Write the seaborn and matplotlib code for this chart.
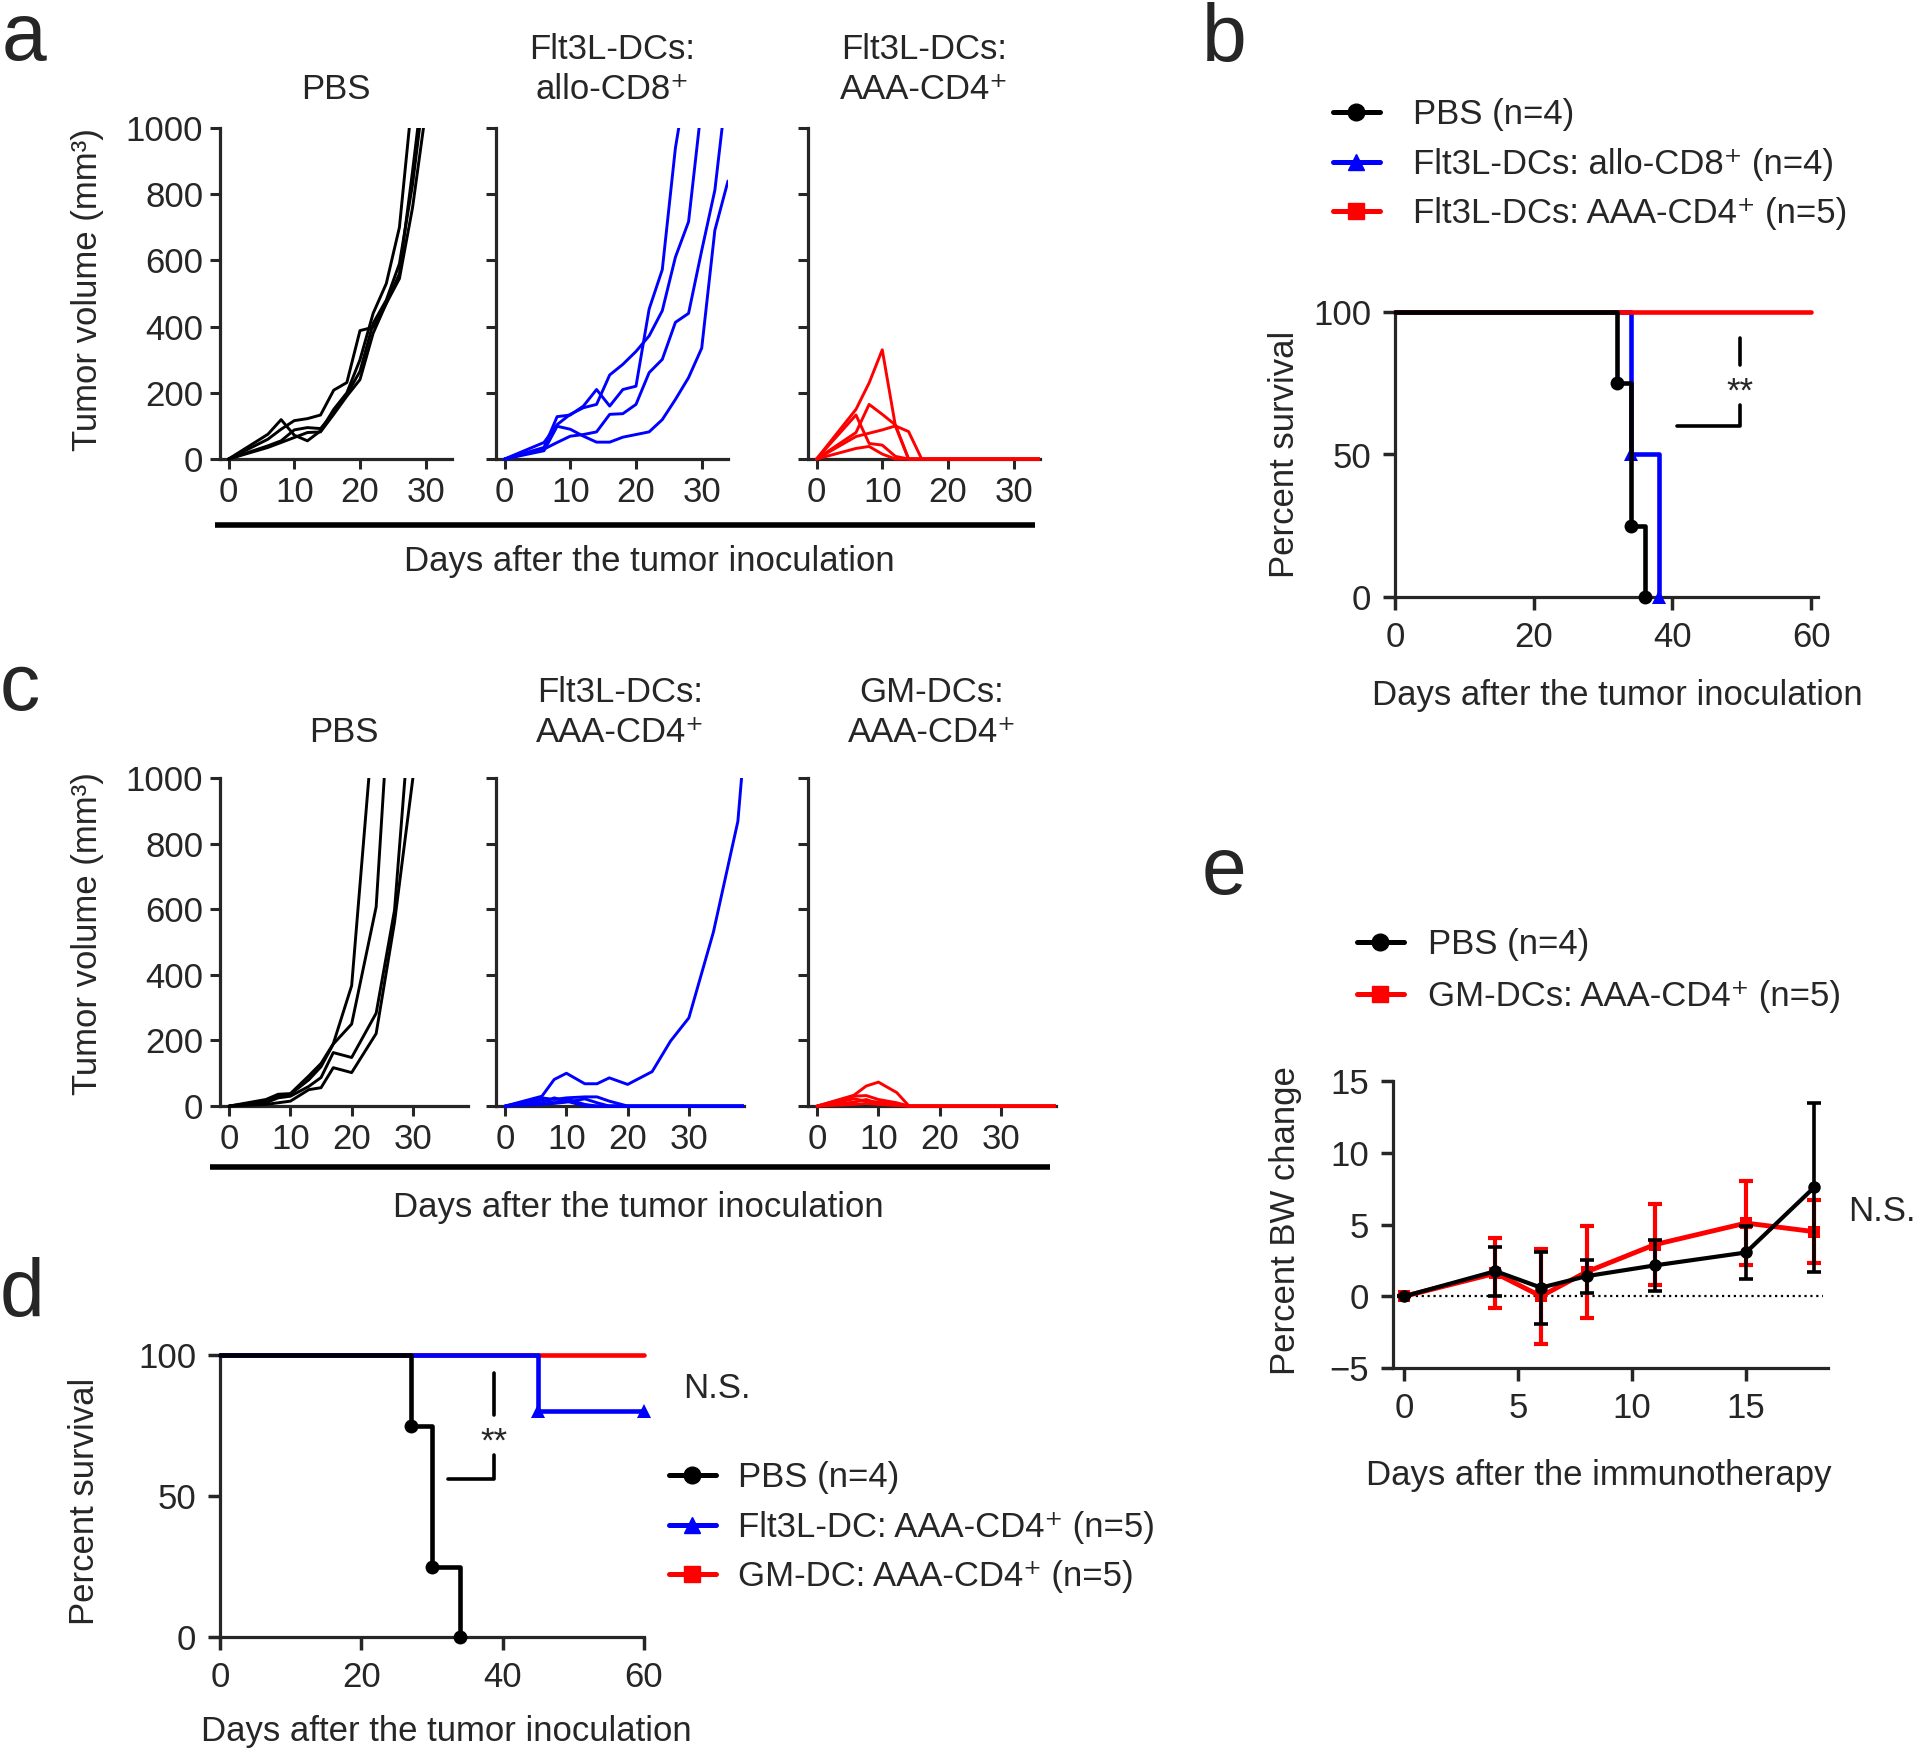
import numpy as np
import pandas as pd
import matplotlib.pyplot as plt
import seaborn as sns
from matplotlib.lines import Line2D

W, H = 1914, 1752

# --- data ---
# panel a: tumor volume per mouse, days after inoculation
a_days = [0, 6, 8, 10, 12, 14, 16, 18, 20, 22, 24, 26, 28, 30, 32, 34]
a_pbs = [
    [0, 75, 119, 72, 55, 85, 150, 200, 300, 440, 530, 700, 1100],
    [0, 60, 90, 116, 122, 133, 208, 231, 388, 398, 470, 560, 870, 1200],
    [0, 40, 55, 88, 95, 92, 140, 195, 265, 410, 480, 590, 830, 1150],
    [0, 35, 50, 65, 80, 82, 135, 190, 240, 380, 470, 545, 760, 1050],
]
a_allo = [
    [0, 35, 128, 133, 160, 210, 160, 210, 220, 453, 572, 940, 1180],
    [0, 50, 104, 135, 155, 165, 254, 286, 325, 372, 448, 610, 717, 1070],
    [0, 30, 50, 69, 74, 82, 135, 137, 165, 261, 301, 413, 440, 630, 812, 1154],
    [0, 25, 99, 90, 69, 51, 51, 66, 74, 82, 119, 180, 246, 335, 691, 840],
]
a_aaa = [
    [0, 150, 230, 330, 100, 0, 0, 0, 0, 0, 0, 0, 0, 0, 0, 0],
    [0, 80, 165, 135, 103, 0, 0, 0, 0, 0, 0, 0, 0, 0, 0, 0],
    [0, 133, 47, 42, 8, 0, 0, 0, 0, 0, 0, 0, 0, 0, 0, 0],
    [0, 68, 78, 88, 100, 83, 0, 0, 0, 0, 0, 0, 0, 0, 0, 0],
    [0, 32, 38, 15, 0, 0, 0, 0, 0, 0, 0, 0, 0, 0, 0, 0],
]

# panel c
c_days = [0, 6, 8, 10, 13, 15, 17, 20, 24, 27, 30, 34, 38, 39]
c_pbs = [
    [0, 20, 36, 38, 92, 130, 190, 367, 1270],
    [0, 15, 30, 36, 80, 120, 189, 250, 607, 1500],
    [0, 10, 25, 30, 60, 87, 163, 148, 283, 597, 1308],
    [0, 5, 10, 15, 50, 56, 117, 102, 221, 560, 1000],
]
c_flt = [
    [0, 30, 81, 100, 68, 68, 86, 66, 105, 198, 269, 530, 868, 1088],
    [0, 25, 20, 25, 28, 28, 15, 0, 0, 0, 0, 0, 0, 0],
    [0, 18, 10, 22, 5, 0, 0, 0, 0, 0, 0, 0, 0, 0],
    [0, 10, 25, 15, 0, 0, 0, 0, 0, 0, 0, 0, 0, 0],
    [0, 5, 8, 12, 22, 10, 0, 0, 0, 0, 0, 0, 0, 0],
]
c_gm = [
    [0, 33, 61, 73, 41, 0, 0, 0, 0, 0, 0, 0, 0, 0],
    [0, 30, 32, 20, 10, 0, 0, 0, 0, 0, 0, 0, 0, 0],
    [0, 22, 15, 12, 5, 0, 0, 0, 0, 0, 0, 0, 0, 0],
    [0, 12, 20, 8, 3, 0, 0, 0, 0, 0, 0, 0, 0, 0],
    [0, 5, 8, 5, 2, 0, 0, 0, 0, 0, 0, 0, 0, 0],
]

# panel b: survival
b_pbs_t, b_pbs_s = [0, 32, 34, 36], [100, 75, 25, 0]
b_allo_t, b_allo_s = [0, 34, 38], [100, 50, 0]
b_aaa_t, b_aaa_s = [0, 60], [100, 100]

# panel d: survival
d_pbs_t, d_pbs_s = [0, 27, 30, 34], [100, 75, 25, 0]
d_flt_t, d_flt_s = [0, 45, 60], [100, 80, 80]
d_gm_t, d_gm_s = [0, 60], [100, 100]

# panel e: body weight change, mean and error
e_days = [0, 4, 6, 8, 11, 15, 18]
e_pbs_mean = [0, 1.75, 0.6, 1.4, 2.15, 3.05, 7.6]
e_pbs_err = [0, 1.7, 2.5, 1.15, 1.8, 1.85, 5.9]
e_gm_mean = [0, 1.6, 0.0, 1.7, 3.6, 5.1, 4.5]
e_gm_err = [0, 2.45, 3.3, 3.2, 2.85, 2.95, 2.2]

BLUE = "#0000ff"
RED = "#ff0000"
FS = 25

sns.set_theme(style="ticks")
plt.rcParams["font.family"] = ["Liberation Sans", "DejaVu Sans"]
plt.rcParams["axes.linewidth"] = 2.3

fig = plt.figure(figsize=(W / 100, H / 100), dpi=100)


def rect(x0, y0, x1, y1):
    return [x0 / W, 1 - y1 / H, (x1 - x0) / W, (y1 - y0) / H]


def fxy(x, y):
    return x / W, 1 - y / H


def tumor_panel(box, days, mice, color, xlim, title, show_y, pad):
    ax = fig.add_axes(box)
    rows = [(d, v, i) for i, m in enumerate(mice) for d, v in zip(days, m)]
    df = pd.DataFrame(rows, columns=["day", "vol", "mouse"])
    sns.lineplot(data=df, x="day", y="vol", units="mouse", estimator=None,
                 color=color, lw=2.1, ax=ax, zorder=3, legend=False)
    ax.set_xlim(*xlim)
    ax.set_ylim(-12, 1000)
    sns.despine(ax=ax)
    ax.spines["left"].set_bounds(0, 1000)
    ax.spines["bottom"].set_position(("data", 0))
    ax.set_xticks([0, 10, 20, 30])
    ax.set_yticks(range(0, 1001, 200))
    if not show_y:
        ax.set_yticklabels([])
    ax.tick_params(length=7, width=2.2, labelsize=FS, pad=5)
    ax.set_xlabel("")
    ax.set_ylabel("")
    ax.set_title(title, fontsize=FS, pad=pad, linespacing=1.28)
    return ax


# ---- panel a ----
tumor_panel(rect(220, 128, 452, 463), a_days, a_pbs, "black", (-1.3, 34), "PBS", True, 21)
tumor_panel(rect(496, 128, 728, 463), a_days, a_allo, BLUE, (-1.3, 34),
            "Flt3L-DCs:\nallo-CD8⁺", False, 21)
tumor_panel(rect(808, 128, 1040, 463), a_days, a_aaa, RED, (-1.3, 34),
            "Flt3L-DCs:\nAAA-CD4⁺", False, 21)
fig.add_artist(Line2D([215 / W, 1035 / W], [1 - 525 / H] * 2, transform=fig.transFigure,
                      color="black", lw=4, solid_capstyle="butt"))
fig.text(*fxy(649, 561), "Days after the tumor inoculation", ha="center", va="center", fontsize=FS)
fig.text(*fxy(88, 290), "Tumor volume (mm³)", ha="center", va="center", rotation=90, fontsize=FS)

# ---- panel c ----
tumor_panel(rect(220, 778, 468, 1110), c_days, c_pbs, "black", (-1.5, 39), "PBS", True, 26)
tumor_panel(rect(496, 778, 744, 1110), c_days, c_flt, BLUE, (-1.5, 39),
            "Flt3L-DCs:\nAAA-CD4⁺", False, 26)
tumor_panel(rect(808, 778, 1056, 1110), c_days, c_gm, RED, (-1.5, 39),
            "GM-DCs:\nAAA-CD4⁺", False, 26)
fig.add_artist(Line2D([210 / W, 1050 / W], [1 - 1167 / H] * 2, transform=fig.transFigure,
                      color="black", lw=4, solid_capstyle="butt"))
fig.text(*fxy(638, 1207), "Days after the tumor inoculation", ha="center", va="center", fontsize=FS)
fig.text(*fxy(88, 934), "Tumor volume (mm³)", ha="center", va="center", rotation=90, fontsize=FS)


def survival_line(ax, t, s, color, marker, events, z):
    sns.lineplot(x=t, y=s, drawstyle="steps-post", color=color, lw=3.3, ax=ax,
                 estimator=None, marker=marker, ms=10, markevery=events,
                 markeredgewidth=0, clip_on=False, zorder=z, legend=False)


def style_axes(ax):
    sns.despine(ax=ax)
    ax.tick_params(length=9, width=2.5, labelsize=FS, pad=8)
    ax.set_xlabel("")
    ax.set_ylabel("")


def legend_handles(colors, markers):
    return [Line2D([], [], color=c, lw=3.6, marker=m, ms=12 if m != "s" else 11)
            for c, m in zip(colors, markers)]


# ---- panel b ----
axb = fig.add_axes(rect(1395, 312, 1818, 597))
survival_line(axb, b_allo_t, b_allo_s, BLUE, "^", [1, 2], 3)
survival_line(axb, b_aaa_t, b_aaa_s, RED, None, None, 4)
survival_line(axb, b_pbs_t, b_pbs_s, "black", "o", [1, 2, 3], 5)
axb.set_xlim(0, 61)
axb.set_ylim(0, 100)
axb.set_xticks([0, 20, 40, 60])
axb.set_yticks([0, 50, 100])
style_axes(axb)
axb.plot([40.7, 49.8, 49.8], [60, 60, 67.5], color="black", lw=2.6, clip_on=False)
axb.plot([49.8, 49.8], [81.5, 91], color="black", lw=2.6, clip_on=False)
axb.text(49.8, 72, "**", ha="center", va="center", fontsize=FS)
fig.text(*fxy(1285, 454), "Percent survival", ha="center", va="center", rotation=90, fontsize=FS)
fig.text(*fxy(1617, 696), "Days after the tumor inoculation", ha="center", va="center", fontsize=FS)
fig.legend(legend_handles(["black", BLUE, RED], ["o", "^", "s"]),
           ["PBS (n=4)", "Flt3L-DCs: allo-CD8⁺ (n=4)", "Flt3L-DCs: AAA-CD4⁺ (n=5)"],
           loc="upper left", bbox_to_anchor=fxy(1333, 98), bbox_transform=fig.transFigure,
           frameon=False, fontsize=FS, handlelength=1.35, handletextpad=0.95,
           labelspacing=0.48, borderpad=0, borderaxespad=0)

# ---- panel d ----
axd = fig.add_axes(rect(220, 1355, 644, 1637))
survival_line(axd, d_gm_t, d_gm_s, RED, None, None, 3)
survival_line(axd, d_flt_t, d_flt_s, BLUE, "^", [1, 2], 4)
survival_line(axd, d_pbs_t, d_pbs_s, "black", "o", [1, 2, 3], 5)
axd.set_xlim(0, 60)
axd.set_ylim(0, 100)
axd.set_xticks([0, 20, 40, 60])
axd.set_yticks([0, 50, 100])
style_axes(axd)
axd.plot([32.2, 38.8, 38.8], [56.2, 56.2, 64.5], color="black", lw=2.6, clip_on=False)
axd.plot([38.8, 38.8], [78.7, 93.7], color="black", lw=2.6, clip_on=False)
axd.text(38.8, 69, "**", ha="center", va="center", fontsize=FS)
axd.text(65.5, 88, "N.S.", ha="left", va="center", fontsize=FS, clip_on=False)
fig.text(*fxy(85, 1501), "Percent survival", ha="center", va="center", rotation=90, fontsize=FS)
fig.text(*fxy(446, 1731), "Days after the tumor inoculation", ha="center", va="center", fontsize=FS)
fig.legend(legend_handles(["black", BLUE, RED], ["o", "^", "s"]),
           ["PBS (n=4)", "Flt3L-DC: AAA-CD4⁺ (n=5)", "GM-DC: AAA-CD4⁺ (n=5)"],
           loc="upper left", bbox_to_anchor=fxy(669, 1461), bbox_transform=fig.transFigure,
           frameon=False, fontsize=FS, handlelength=1.35, handletextpad=0.65,
           labelspacing=0.48, borderpad=0, borderaxespad=0)

# ---- panel e ----
axe = fig.add_axes(rect(1393, 1081, 1828, 1368))
axe.plot([0, 18.4], [0, 0], color="black", lw=1.6, ls=":", zorder=1)
axe.errorbar(e_days, e_gm_mean, yerr=e_gm_err, fmt="none", ecolor=RED, elinewidth=3,
             capsize=5, capthick=3, zorder=2, clip_on=False)
sns.lineplot(x=e_days, y=e_gm_mean, color=RED, lw=3.5, marker="s", ms=9,
             markeredgewidth=0, ax=axe, zorder=3, clip_on=False, estimator=None)
axe.errorbar(e_days, e_pbs_mean, yerr=e_pbs_err, fmt="none", ecolor="black", elinewidth=2.6,
             capsize=5, capthick=2.6, zorder=4, clip_on=False)
sns.lineplot(x=e_days, y=e_pbs_mean, color="black", lw=3, marker="o", ms=9,
             markeredgewidth=0, ax=axe, zorder=5, clip_on=False, estimator=None)
axe.set_xlim(-0.5, 18.6)
axe.set_ylim(-5, 15)
axe.set_xticks([0, 5, 10, 15])
axe.set_yticks([-5, 0, 5, 10, 15])
style_axes(axe)
axe.text(19.5, 5.9, "N.S.", ha="left", va="center", fontsize=FS, clip_on=False)
fig.text(*fxy(1285, 1221), "Percent BW change", ha="center", va="center", rotation=90, fontsize=FS)
fig.text(*fxy(1599, 1475), "Days after the immunotherapy", ha="center", va="center", fontsize=FS)
fig.legend(legend_handles(["black", RED], ["o", "s"]),
           ["PBS (n=4)", "GM-DCs: AAA-CD4⁺ (n=5)"],
           loc="upper left", bbox_to_anchor=fxy(1357, 928), bbox_transform=fig.transFigure,
           frameon=False, fontsize=FS, handlelength=1.35, handletextpad=0.7,
           labelspacing=0.55, borderpad=0, borderaxespad=0)

# ---- panel letters ----
for letter, (x, y) in {"a": (2, 60), "b": (1202, 61), "c": (0, 710),
                       "d": (0, 1316), "e": (1202, 894)}.items():
    fig.text(*fxy(x, y), letter, fontsize=58, ha="left", va="baseline")

fig.savefig("out.png", dpi=100)
